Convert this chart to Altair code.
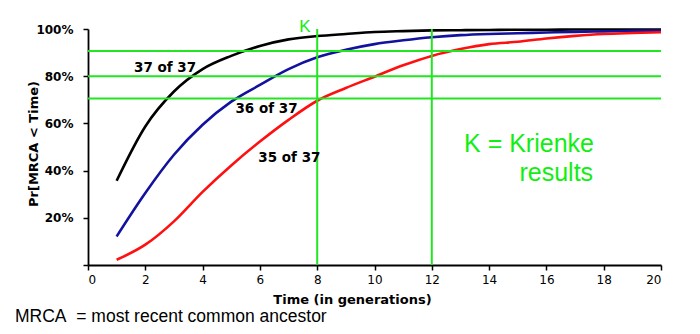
import altair as alt
import pandas as pd

# ---- data ----
gens = list(range(1, 21))
p37 = [35.7, 58.7, 73.5, 83.0, 88.6, 92.8, 95.6, 97.0, 97.9, 98.7, 99.1, 99.4,
       99.5, 99.6, 99.7, 99.7, 99.8, 99.8, 99.8, 99.8]
p36 = [12.1, 30.5, 46.7, 59.4, 69.2, 76.3, 83.0, 88.0, 91.2, 93.6, 95.2, 96.5,
       97.4, 97.9, 98.2, 98.5, 98.8, 99.0, 99.2, 99.3]
p35 = [2.2, 8.6, 18.5, 31.0, 42.2, 52.3, 61.5, 69.6, 75.0, 79.8, 84.6, 88.6,
       91.5, 93.6, 94.6, 96.0, 97.1, 97.9, 98.3, 98.6]
series_names = ["37 of 37", "36 of 37", "35 of 37"]
series_colors = ["#000000", "#12129e", "#ff1010"]

h_levels = [90.7, 80.0, 70.5]
k_gens = [8, 12]

# annotation texts (anchored in data units)
curve_lbl_x = [2.69, 6.23, 7.03]
curve_lbl_y = [81.9, 64.3, 43.8]

rows = []
for name, vals in zip(series_names, [p37, p36, p35]):
    for g, v in zip(gens, vals):
        rows.append({"t": g, "p": v, "s": name})
df = pd.DataFrame(rows)

xs = alt.Scale(domain=[0, 20], nice=False, zero=False)
ys = alt.Scale(domain=[0, 100], nice=False)

x_axis = alt.Axis(
    values=list(range(0, 21)),
    labelExpr="datum.value % 2 == 0 ? datum.label : ''",
    grid=False, domainColor="black", domainWidth=1.8, tickColor="black",
    tickWidth=1.5, tickSize=5, labelFont="DejaVu Sans", labelFontSize=12,
    labelColor="black", labelPadding=4, title="Time (in generations)",
    titleFont="DejaVu Sans", titleFontSize=13, titleFontWeight="bold",
    titleColor="black", titleX=264, titleY=38, titleBaseline="alphabetic",
    titleAlign="center",
)
y_axis = alt.Axis(
    values=list(range(0, 101, 10)),
    labelExpr="(datum.value % 20 == 0 && datum.value > 0) ? datum.value + '%' : ''",
    grid=False, domainColor="black", domainWidth=1.8, tickColor="black",
    tickWidth=1.5, tickSize=5, labelFont="DejaVu Sans", labelFontSize=12,
    labelFontWeight="bold", labelColor="black", labelPadding=10,
    title="Pr[MRCA < Time)", titleFont="DejaVu Sans", titleFontSize=13,
    titleFontWeight="bold", titleColor="black", titleAngle=270,
    titleX=-51, titleY=114.5, titleBaseline="alphabetic", titleAlign="center",
)

curves = alt.Chart(df).mark_line(strokeWidth=2.6, interpolate="monotone", clip=False).encode(
    x=alt.X("t:Q", scale=xs, axis=x_axis),
    y=alt.Y("p:Q", scale=ys, axis=y_axis),
    color=alt.Color("s:N", scale=alt.Scale(domain=series_names, range=series_colors), legend=None),
)

green = "#22e622"
hdf = pd.DataFrame({"y": h_levels, "x0": [0] * len(h_levels), "x1": [20] * len(h_levels)})
hrules = alt.Chart(hdf).mark_rule(color=green, strokeWidth=2).encode(
    x="x0:Q", x2="x1:Q", y="y:Q")
vdf = pd.DataFrame({"x": k_gens, "y0": [0] * len(k_gens), "y1": [100] * len(k_gens)})
vrules = alt.Chart(vdf).mark_rule(color=green, strokeWidth=2).encode(
    x="x:Q", y="y0:Q", y2="y1:Q")

lbl_df = pd.DataFrame({"x": curve_lbl_x, "y": curve_lbl_y, "txt": series_names})
labels = alt.Chart(lbl_df).mark_text(
    font="DejaVu Sans", fontSize=13.5, fontWeight="bold", color="black",
    align="center", baseline="alphabetic").encode(x="x:Q", y="y:Q", text="txt:N")

k_df = pd.DataFrame({"x": [7.57], "y": [98.7], "txt": ["K"]})
k_label = alt.Chart(k_df).mark_text(
    font="Liberation Sans", fontSize=17, color="#11ee11", align="center",
    baseline="alphabetic", clip=False).encode(x="x:Q", y="y:Q", text="txt:N")

kr_df = pd.DataFrame({"x": [17.66, 17.63], "y": [47.9, 35.7], "txt": ["K = Krienke", "results"]})
kr_label = alt.Chart(kr_df).mark_text(
    font="Liberation Sans", fontSize=25, color="#11ee11", align="right",
    baseline="alphabetic").encode(x="x:Q", y="y:Q", text="txt:N")

chart = alt.layer(curves, hrules, vrules, labels, k_label, kr_label).properties(
    width=573, height=236,
    autosize=alt.AutoSizeParams(type="none"),
    padding={"left": 88, "top": 29, "right": 39, "bottom": 69},
    background="white",
    title=alt.TitleParams(
        "MRCA\u00a0 = most recent common ancestor", orient="bottom", anchor="start",
        frame="group", dx=-73, offset=16, font="Liberation Sans", fontSize=17.5,
        fontWeight="normal", color="black", baseline="alphabetic"),
).configure_view(stroke=None)

chart.save("out.html", embed_options={"renderer": "svg", "actions": False})
